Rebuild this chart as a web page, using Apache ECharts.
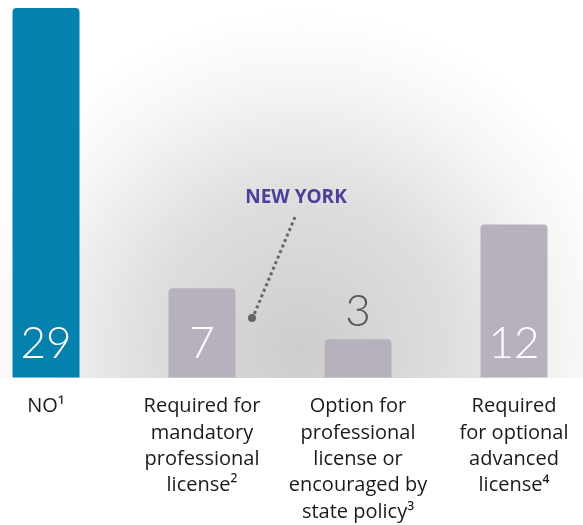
<!DOCTYPE html>
<html>
<head>
<meta charset="utf-8">
<script src="https://cdn.jsdelivr.net/npm/echarts@6/dist/echarts.min.js"></script>
<style>
  html, body { margin: 0; padding: 0; background: #fff; overflow: hidden; }
  /* chart is a bit wider than the page so the outer bars sit close to the edges */
  #chart { position: absolute; left: -32px; top: 0; width: 624px; height: 525px; }
</style>
</head>
<body>
<div id="chart"></div>
<script>
// categories and values
const categories = [
  'NO\u00b9',
  'Required for\nmandatory\nprofessional\nlicense\u00b2',
  'Option for\nprofessional\nlicense or\nencouraged by\nstate policy\u00b3',
  'Required\nfor optional\nadvanced\nlicense\u2074'
];
const counts = [29, 7, 3, 12];
const highlightIndex = 0;   // the "NO" bar
const calloutLabel = 'NEW YORK';

const blue = '#0581ae';
const grey = '#b7b1bd';
const OFF = 32; // page x -> chart x

const chart = echarts.init(document.getElementById('chart'));

const option = {
  animation: false,
  backgroundColor: '#fff',
  grid: { left: 0, right: 0, top: 8, bottom: 147 },
  xAxis: {
    type: 'category',
    data: categories,
    axisLine: { show: false },
    axisTick: { show: false },
    axisLabel: {
      interval: 0,
      color: '#1a1a1a',
      fontFamily: 'Open Sans',
      fontSize: 20,
      lineHeight: 26.3,
      margin: 16,
      verticalAlign: 'top'
    }
  },
  yAxis: {
    type: 'value',
    min: 0,
    max: 29,
    show: false,
    splitLine: { show: false }
  },
  graphic: [
    {
      type: 'rect',
      z: -10,
      silent: true,
      shape: { x: 0, y: 0, width: 624, height: 378 },
      style: {
        fill: {
          type: 'radial', x: 300 + OFF, y: 350, r: 340, global: true,
          colorStops: [
            { offset: 0, color: '#cdcdcd' },
            { offset: 0.45, color: '#dedede' },
            { offset: 0.8, color: '#f6f6f6' },
            { offset: 1, color: '#ffffff' }
          ]
        }
      }
    },
    {
      type: 'text',
      z: 10,
      x: 296 + OFF, y: 198,
      style: {
        text: calloutLabel,
        fill: '#4a3f9b',
        font: 'bold 19px "Open Sans"',
        align: 'center',
        verticalAlign: 'middle'
      }
    },
    {
      type: 'line',
      z: 10,
      shape: { x1: 295 + OFF, y1: 217, x2: 253 + OFF, y2: 317 },
      style: { stroke: '#666', lineWidth: 3, lineDash: [3, 3] }
    },
    {
      type: 'circle',
      z: 10,
      shape: { cx: 252 + OFF, cy: 318, r: 4 },
      style: { fill: '#666' }
    }
  ],
  series: [{
    type: 'bar',
    barWidth: 67,
    data: counts.map((v, i) => ({
      value: v,
      itemStyle: {
        color: i === highlightIndex ? blue : grey,
        borderRadius: [4, 4, 0, 0]
      },
      label: v < 5
        ? { position: 'top', color: '#555', distance: 5 }
        : { position: 'insideBottom', color: '#fff', distance: 12 }
    })),
    label: {
      show: true,
      fontFamily: 'Lato',
      fontWeight: 300,
      fontSize: 44
    }
  }]
};

chart.setOption(option);
</script>
</body>
</html>
